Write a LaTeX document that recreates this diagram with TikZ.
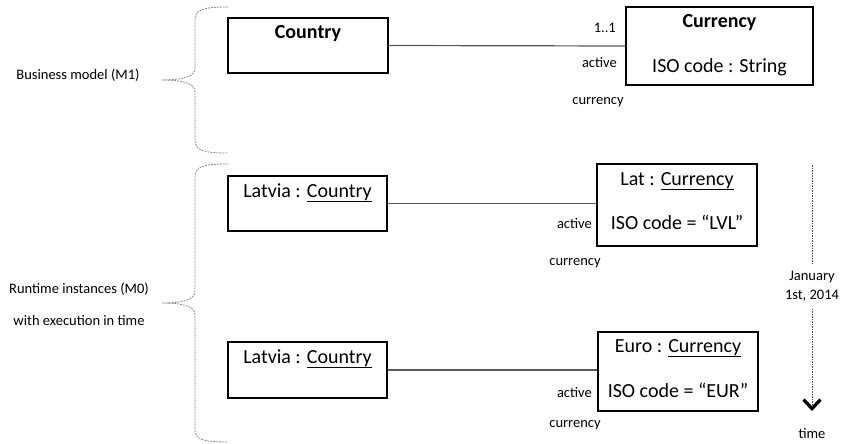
\documentclass[tikz,border=0pt]{standalone}
\usepackage{fontspec}
\setmainfont{Carlito}
\usetikzlibrary{arrows.meta}
\begin{document}
\begin{tikzpicture}[x=1pt,y=-1pt,
  umlbox/.style={draw=black, line width=1.4pt, inner sep=0pt},
  boxtext/.style={anchor=base, inner sep=0pt, font=\fontsize{20}{24}\selectfont},
  boldtext/.style={boxtext, font=\fontsize{20}{24}\selectfont\bfseries},
  small/.style={inner sep=0pt, font=\fontsize{14.5}{19}\selectfont},
  assoc/.style={draw=black!65, line width=1.2pt},
  brace/.style={draw=black!45, line width=0.8pt, dash pattern=on 2pt off 1pt},
  timeline/.style={draw=black!70, line width=1pt, dash pattern=on 1.5pt off 1pt}]
\useasboundingbox (0,0) rectangle (844,444);

% ---- business model (M1) ----
\node[umlbox, minimum width=160pt, minimum height=55pt] (country) at (308,45.5) {};
\node[boldtext] (countryname) at (308,39) {Country};
\node[umlbox, minimum width=187pt, minimum height=78pt] (currency) at (719.5,46) {};
\node[boldtext] (currencyname) at (719.5,28) {Currency};
\node[boxtext] (currencyattr) at (719.5,73) {ISO code : String};
\draw[assoc] (country.east) -- (currency.west);
\node[small, anchor=base east] (mult) at (616,33) {1..1};
\node[small, anchor=base east] (act1) at (617,68) {active};
\node[small, anchor=base] (cur1) at (598,104) {currency};

% ---- runtime instances (M0), before the switch ----
\node[umlbox, minimum width=159pt, minimum height=55pt] (latvia1) at (307.5,203.5) {};
\node[boxtext] (latvia1name) at (307.5,197) {Latvia : \underline{Country}};
\node[umlbox, minimum width=160pt, minimum height=82pt] (lat) at (677,205) {};
\node[boxtext] (latname) at (677,185) {Lat : \underline{Currency}};
\node[boxtext] (latattr) at (677,229) {ISO code = “LVL”};
\draw[assoc] (latvia1.east) -- (latvia1.east -| lat.west);
\node[small, anchor=base east] (act2) at (592,228) {active};
\node[small, anchor=base] (cur2) at (575,265) {currency};

% ---- runtime instances (M0), after the switch ----
\node[umlbox, minimum width=159pt, minimum height=56pt] (latvia2) at (307.5,370) {};
\node[boxtext] (latvia2name) at (307.5,363) {Latvia : \underline{Country}};
\node[umlbox, minimum width=160pt, minimum height=79pt] (euro) at (678,371.5) {};
\node[boxtext] (euroname) at (678,352) {Euro : \underline{Currency}};
\node[boxtext] (euroattr) at (678,397) {ISO code = “EUR”};
\draw[assoc] (latvia2.east) -- (latvia2.east -| euro.west);
\node[small, anchor=base east] (act3) at (592,397) {active};
\node[small, anchor=base] (cur3) at (575,427) {currency};

% ---- level braces and their captions ----
\draw[brace] (228,7) .. controls (202,7) and (195,10) .. (195,20) -- (195,68)
  .. controls (195,77) and (182,80) .. (162,80)
  .. controls (182,80) and (195,83) .. (195,92) -- (195,140)
  .. controls (195,150) and (202,153) .. (228,153);
\draw[brace] (228,164) .. controls (202,164) and (195,167) .. (195,177) -- (195,291)
  .. controls (195,300) and (182,303) .. (162,303)
  .. controls (182,303) and (195,306) .. (195,315) -- (195,430)
  .. controls (195,439) and (202,442) .. (228,442);
\node[small, anchor=base] (m1) at (78,80) {Business model (M1)};
\node[small, anchor=base] (m0) at (79,293) {Runtime instances (M0)};
\node[small, anchor=base] (exec) at (79,325) {with execution in time};

% ---- time axis ----
\coordinate (tstart) at (812,165);
\node[small, align=center, inner ysep=7pt] (jan) at (812,286.5) {January\\1st, 2014};
\coordinate (tend) at (812,411);
\draw[timeline] (tstart) -- (jan.north);
\draw[timeline, -{Straight Barb[color=black, length=9pt, width=17pt, line width=3.3pt]}] (jan.south) -- (tend);
\node[small, anchor=base] (time) at (812,438) {time};
\end{tikzpicture}
\end{document}
